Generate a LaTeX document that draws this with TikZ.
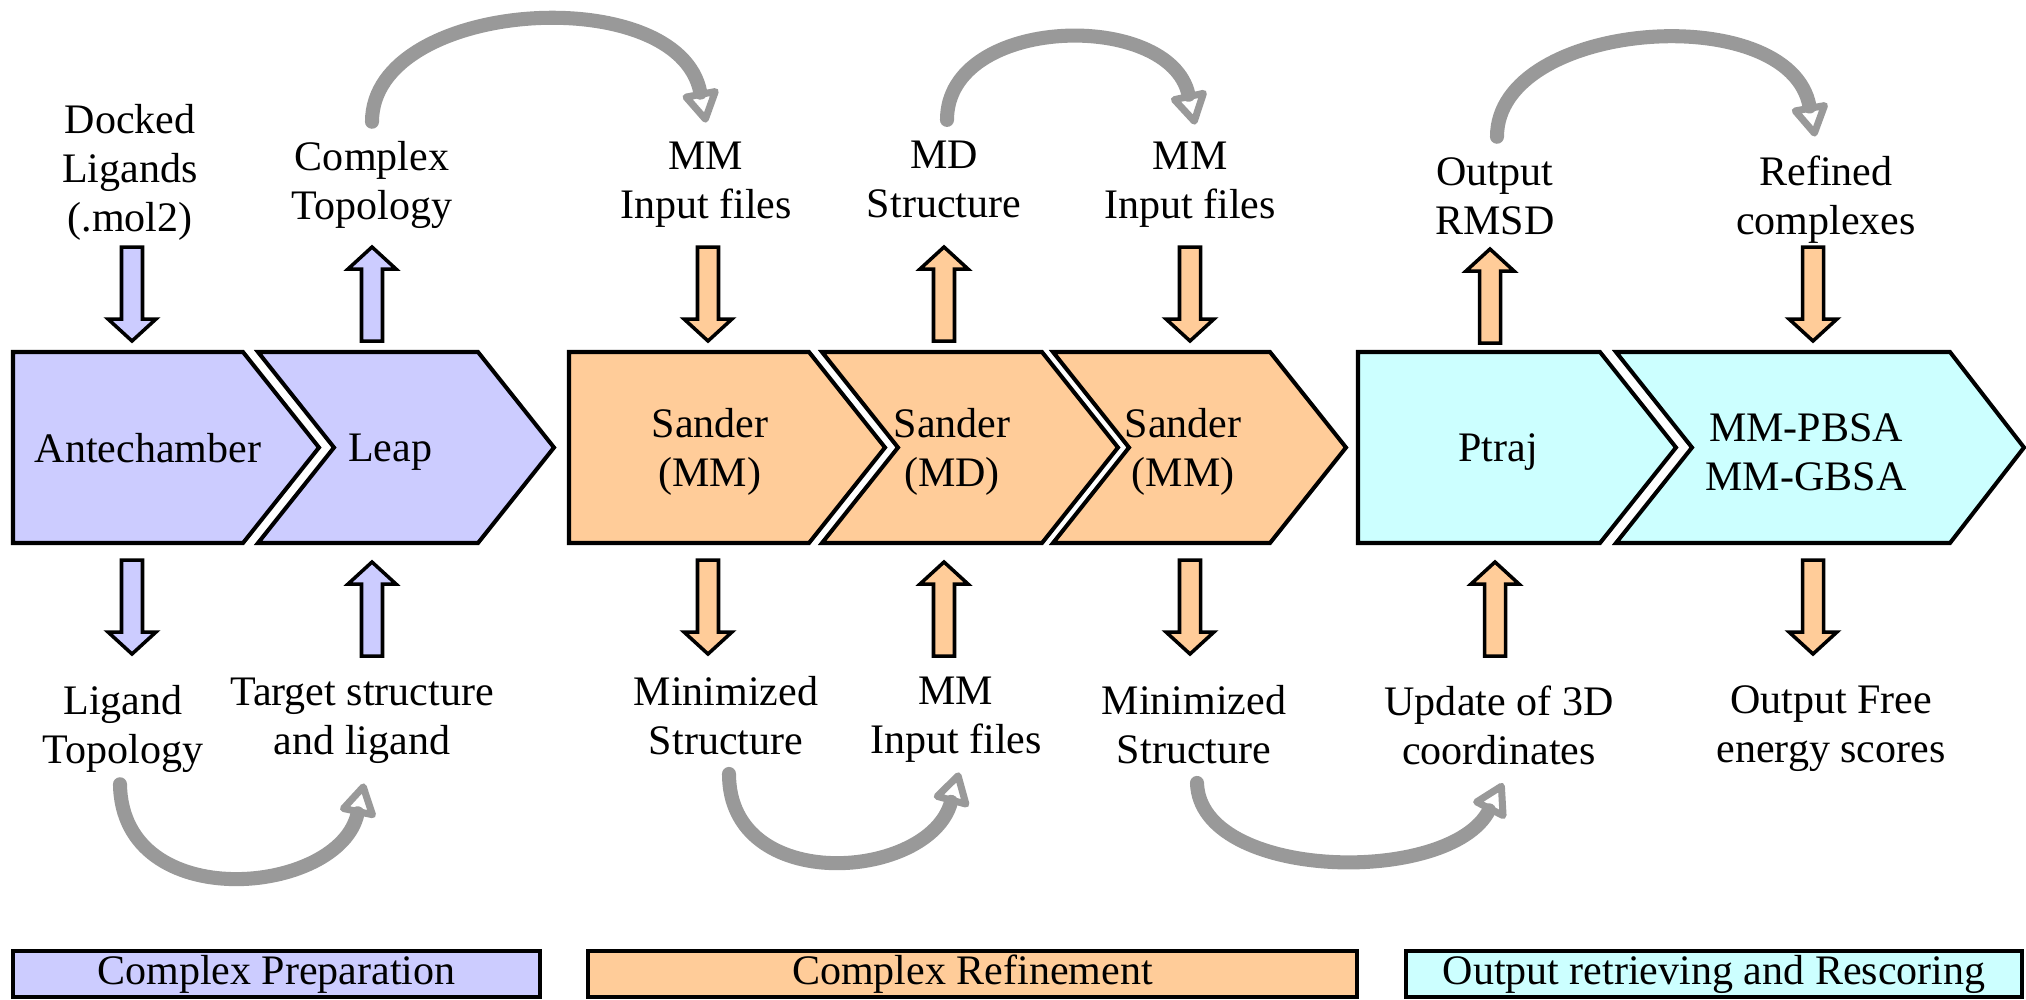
\documentclass[tikz,border=0pt]{standalone}
\usepackage{fontspec}
\setmainfont{LiberationSerif}[Extension=.ttf, UprightFont=*-Regular, BoldFont=*-Bold]
\usepackage{tikz}
\usetikzlibrary{arrows.meta, positioning, calc}
\definecolor{prepfill}{RGB}{204,204,255}
\definecolor{refinefill}{RGB}{255,204,153}
\definecolor{scorefill}{RGB}{204,255,255}
\definecolor{loopgray}{RGB}{153,153,153}
\tikzset{
  chev/.style={draw=black, line width=1.15pt, line join=miter},
  stage/.style={align=center, inner sep=0pt},
  lbl/.style={align=center, inner sep=0pt},
  phasebar/.style={draw=black, line width=1pt, inner sep=0pt,
    minimum height=0.46cm},
  fatline/.style={draw=black, line width=1pt},
  loop/.style={draw=loopgray, line width=4pt, line cap=round,
    -{Triangle[open, length=3.6mm, width=4mm, line width=2pt, round]}},
  pics/fatdown/.style={code={
    \draw[fatline, fill=#1] (-10.5,0) -- (-10.5,72) -- (-24,72) -- (0,94)
      -- (24,72) -- (10.5,72) -- (10.5,0) -- cycle;}}
}

\begin{document}
\begin{tikzpicture}[x=0.01cm, y={(0cm,-0.01cm)},
  every node/.style={font=\rmfamily\fontsize{11.95}{13.9}\selectfont}]
  \useasboundingbox (0,0) rectangle (2026,999);

  % Complex preparation
  \draw[chev, fill=prepfill] (13,352) -- (243,352) -- (319,447.5) -- (243,543) -- (13,543) -- cycle;
  \draw[chev, fill=prepfill] (258,352) -- (478,352) -- (554,447.5) -- (478,543) -- (258,543) -- (334,447.5) -- cycle;
  \node[stage] (ante) at (148,448) {Antechamber};
  \node[stage] (leap) at (390,452) {Leap};

  % Complex refinement
  \draw[chev, fill=refinefill] (569,352) -- (809,352) -- (885,447.5) -- (809,543) -- (569,543) -- cycle;
  \draw[chev, fill=refinefill] (822,352) -- (1042,352) -- (1118,447.5) -- (1042,543) -- (822,543) -- (898,447.5) -- cycle;
  \draw[chev, fill=refinefill] (1053,352) -- (1270,352) -- (1346,447.5) -- (1270,543) -- (1053,543) -- (1129,447.5) -- cycle;
  \node[stage] (sandA) at (710,452) {Sander\\(MM)};
  \node[stage] (sandB) at (952,452) {Sander\\(MD)};
  \node[stage] (sandC) at (1183,452) {Sander\\(MM)};

  % Output retrieving and rescoring
  \draw[chev, fill=scorefill] (1358,352) -- (1600,352) -- (1676,447.5) -- (1600,543) -- (1358,543) -- cycle;
  \draw[chev, fill=scorefill] (1616,352) -- (1950,352) -- (2024,447.5) -- (1950,543) -- (1616,543) -- (1692,447.5) -- cycle;
  \node[stage] (ptraj) at (1498,452) {Ptraj};
  \node[stage] (pbsa) at (1806,452) {MM-PBSA\\MM-GBSA};

  % inputs and outputs above
  \node[lbl] (dock) at (130,172) {Docked\\Ligands\\(.mol2)};
  \node[lbl] (ctop) at (372,185) {Complex\\Topology};
  \node[lbl] (mminA) at (706,185) {MM\\Input files};
  \node[lbl] (mdst) at (944,179) {MD\\Structure};
  \node[lbl] (mminB) at (1190,185) {MM\\Input files};
  \node[lbl] (rmsd) at (1495,196) {Output\\RMSD};
  \node[lbl] (refd) at (1826,200) {Refined\\complexes};

  % inputs and outputs below
  \node[lbl] (ligtop) at (123,729) {Ligand\\Topology};
  \node[lbl] (target) at (362,721) {Target structure\\and ligand};
  \node[lbl] (minA) at (726,716) {Minimized\\Structure};
  \node[lbl] (mminC) at (956,720) {MM\\Input files};
  \node[lbl] (minB) at (1194,725) {Minimized\\Structure};
  \node[lbl] (upd) at (1499,725) {Update of 3D\\coordinates};
  \node[lbl] (free) at (1831,729) {Output Free\\energy scores};

  % block arrows
  \pic at (132,247) {fatdown=prepfill};
  \pic[rotate=180] at (372,341) {fatdown=prepfill};
  \pic at (132,560) {fatdown=prepfill};
  \pic[rotate=180] at (372,656) {fatdown=prepfill};
  \pic at (708,247) {fatdown=refinefill};
  \pic[rotate=180] at (944,341) {fatdown=refinefill};
  \pic at (1190,247) {fatdown=refinefill};
  \pic at (708,560) {fatdown=refinefill};
  \pic[rotate=180] at (944,656) {fatdown=refinefill};
  \pic at (1190,560) {fatdown=refinefill};
  \pic[rotate=180] at (1490,343) {fatdown=refinefill};
  \pic at (1813,247) {fatdown=refinefill};
  \pic[rotate=180] at (1495,656) {fatdown=refinefill};
  \pic at (1813,560) {fatdown=refinefill};

  % gray loops
  \draw[loop] ([yshift=0.19cm]ctop.north) .. controls +(0,-123) and +(-27,-143) .. ([yshift=0.19cm]mminA.north);
  \draw[loop] ([xshift=0.03cm, yshift=0.2cm]mdst.north) .. controls +(0,-105) and +(-25,-115) .. ([xshift=0.05cm, yshift=0.17cm]mminB.north);
  \draw[loop] ([xshift=0.02cm, yshift=0.2cm]rmsd.north) .. controls +(0,-117) and +(-25,-138) .. ([xshift=-0.11cm, yshift=0.19cm]refd.north);
  \draw[loop] ([xshift=-0.03cm, yshift=-0.11cm]ligtop.south) .. controls +(2,132) and +(-24,112) .. ([xshift=0.02cm, yshift=-0.19cm]target.south);
  \draw[loop] ([xshift=0.03cm, yshift=-0.18cm]minA.south) .. controls +(0,122) and +(-29,108) .. ([xshift=0.03cm, yshift=-0.09cm]mminC.south);
  \draw[loop] ([xshift=0.03cm, yshift=-0.18cm]minB.south) .. controls +(3,98) and +(-53,103) .. ([xshift=0.04cm, yshift=-0.18cm]upd.south);

  % phase bars
  \node[phasebar, fill=prepfill, minimum width=5.27cm] (prep) at (276.5,974) {Complex Preparation};
  \node[phasebar, fill=refinefill, minimum width=7.69cm] (refine) at (972.5,974) {Complex Refinement};
  \node[phasebar, fill=scorefill, minimum width=6.16cm] (score) at (1714,974) {Output retrieving and Rescoring};
\end{tikzpicture}
\end{document}
